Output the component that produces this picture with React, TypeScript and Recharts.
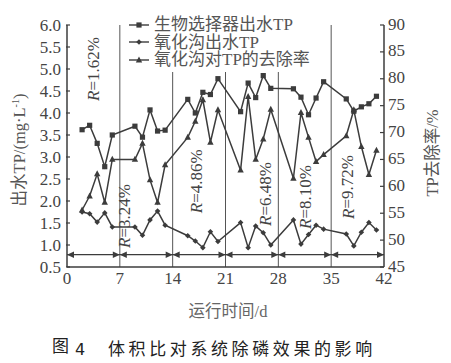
import React from 'react';
import { ComposedChart, Line, XAxis, YAxis, ReferenceLine, ReferenceDot, Legend } from 'recharts';

const days = [2, 3, 4, 5, 6, 9, 10, 11, 12, 13, 16, 17, 18, 19, 20, 23, 24, 25, 26, 27, 30, 31, 32, 33, 34, 37, 38, 39, 40, 41];
const selectorTP = [3.62, 3.72, 3.31, 2.78, 3.5, 3.7, 3.45, 4.07, 3.59, 3.61, 4.31, 4.0, 4.47, 4.42, 4.78, 4.03, 4.68, 4.35, 4.85, 4.56, 4.55, 4.36, 3.96, 4.34, 4.71, 4.32, 4.04, 4.14, 4.21, 4.38];
const ditchTP = [1.75, 1.71, 1.52, 1.73, 1.41, 1.41, 1.22, 1.57, 1.77, 1.45, 1.21, 1.09, 0.94, 1.3, 1.08, 1.51, 0.94, 1.43, 1.28, 1.0, 1.57, 1.02, 1.24, 1.45, 1.36, 1.25, 0.98, 1.29, 1.51, 1.34];
const removalRate = [55.6, 58.2, 62.3, 57.0, 65.0, 65.0, 68.0, 61.2, 57.0, 64.0, 69.1, 72.1, 76.1, 68.2, 74.2, 63.0, 76.7, 65.0, 68.8, 74.3, 61.5, 73.7, 69.1, 64.6, 65.9, 69.4, 74.2, 67.4, 62.2, 66.7];

const seriesNames = ['生物选择器出水TP', '氧化沟出水TP', '氧化沟对TP的去除率'];
const xTicks = [0, 7, 14, 21, 28, 35, 42];
const leftTicks = [0.5, 1.0, 1.5, 2.0, 2.5, 3.0, 3.5, 4.0, 4.5, 5.0, 5.5, 6.0];
const rightTicks = [45, 50, 55, 60, 65, 70, 75, 80, 85, 90];
const phaseBounds = [7, 14, 21, 28, 35];
const phaseSegments = [[0, 7], [7, 14], [14, 21], [21, 28], [28, 35], [35, 42]];
const arrowLevel = 0.78;
const ratioValues = ['1.62', '3.24', '4.86', '6.48', '8.10', '9.72'];
const ratioDays = [3.45, 7.6, 17.1, 26.3, 31.6, 37.2];
const ratioLevels = [5.0, 1.66, 2.45, 2.16, 2.09, 2.32];

const data = days.map((d, i) => ({ day: d, s: selectorTP[i], o: ditchTP[i], r: removalRate[i] }));

const INK = '#3c3c3c';
const SERIF = '"Liberation Serif", "Times New Roman", serif';
const CJK = '"Liberation Serif", "Noto Sans CJK SC", serif';

const SquareDot = (p: any) => {
  const { cx, cy } = p;
  if (cx == null || cy == null) return null;
  return <rect x={cx - 2.6} y={cy - 2.6} width={5.2} height={5.2} fill={INK} />;
};
const DiamondDot = (p: any) => {
  const { cx, cy } = p;
  if (cx == null || cy == null) return null;
  const s = 2.8;
  return <polygon points={`${cx},${cy - s} ${cx + s},${cy} ${cx},${cy + s} ${cx - s},${cy}`} fill={INK} />;
};
const TriangleDot = (p: any) => {
  const { cx, cy } = p;
  if (cx == null || cy == null) return null;
  return <polygon points={`${cx},${cy - 3.6} ${cx + 3.2},${cy + 2.4} ${cx - 3.2},${cy + 2.4}`} fill={INK} />;
};

const markerFor = (key: string, cx: number, cy: number) => {
  if (key === 's') return <SquareDot cx={cx} cy={cy} />;
  if (key === 'o') return <DiamondDot cx={cx} cy={cy} />;
  return <TriangleDot cx={cx} cy={cy} />;
};

const renderLegend = (props: any) => {
  const payload = [...(props.payload || [])].sort(
    (a: any, b: any) => seriesNames.indexOf(a.value) - seriesNames.indexOf(b.value)
  );
  return (
    <div style={{ background: '#fff', paddingBottom: 3 }}>
      {payload.map((entry: any) => (
        <div key={entry.value} style={{ display: 'flex', alignItems: 'center', height: 17.5 }}>
          <svg width={24} height={12} style={{ display: 'block' }}>
            <line x1={2} y1={6} x2={22} y2={6} stroke={INK} strokeWidth={1.4} />
            {markerFor(entry.dataKey, 12, 6)}
          </svg>
          <span style={{ marginLeft: 3, fontSize: 17, lineHeight: '17.5px', color: '#555', fontFamily: CJK, whiteSpace: 'nowrap' }}>
            {entry.value}
          </span>
        </div>
      ))}
    </div>
  );
};

const LeftTick = (p: any) => {
  const { x, y, payload } = p;
  return (
    <g>
      <line x1={x + 5} y1={y} x2={x + 9} y2={y} stroke={INK} strokeWidth={1.2} />
      <text x={x} y={y} textAnchor="end" dominantBaseline="central" fontSize={17} fontFamily={SERIF} fill="#444">
        {Number(payload.value).toFixed(1)}
      </text>
    </g>
  );
};
const RightTick = (p: any) => {
  const { x, y, payload } = p;
  return (
    <g>
      <line x1={x - 4} y1={y} x2={x - 8} y2={y} stroke={INK} strokeWidth={1.2} />
      <text x={x} y={y - 1} textAnchor="start" dominantBaseline="central" fontSize={17} fontFamily={SERIF} fill="#444">
        {payload.value}
      </text>
    </g>
  );
};
const BottomTick = (p: any) => {
  const { x, y, payload } = p;
  return (
    <text x={x} y={y + 13} textAnchor="middle" fontSize={17} fontFamily={SERIF} fill="#444">
      {payload.value}
    </text>
  );
};

const ArrowHead = (dir: number) => (p: any) => {
  const { cx, cy } = p;
  if (cx == null || cy == null) return null;
  return <polygon points={`${cx},${cy} ${cx - dir * 7},${cy - 3.2} ${cx - dir * 7},${cy + 3.2}`} fill={INK} />;
};

const RatioLabel = (text: string) => (p: any) => {
  const { cx, cy } = p;
  if (cx == null || cy == null) return null;
  return (
    <text x={cx} y={cy} transform={`rotate(-90 ${cx} ${cy})`} textAnchor="middle" dominantBaseline="central" fontSize={17} fontFamily={SERIF} fill="#444">
      <tspan fontStyle="italic">R</tspan>
      {'=' + text + '%'}
    </text>
  );
};

export default function App() {
  return (
    <div style={{ position: 'absolute', left: 0, top: 0, width: 451, height: 363, background: '#fff' }}>
      <ComposedChart width={451} height={363} data={data} margin={{ top: 25, right: 0, bottom: 66, left: 0 }}>
        <XAxis
          dataKey="day"
          type="number"
          domain={[0, 42]}
          ticks={xTicks}
          height={30}
          tickSize={0}
          tickMargin={4}
          tickLine={false}
          axisLine={{ stroke: INK, strokeWidth: 1.5 }}
          tick={<BottomTick />}
          interval={0}
        />
        <YAxis
          yAxisId="left"
          width={67}
          domain={[0.5, 6]}
          ticks={leftTicks}
          tickSize={0}
          tickMargin={6}
          tickLine={false}
          axisLine={{ stroke: INK, strokeWidth: 1.5 }}
          tick={<LeftTick />}
          interval={0}
        />
        <YAxis
          yAxisId="right"
          orientation="right"
          width={67}
          domain={[45, 90]}
          ticks={rightTicks}
          tickSize={0}
          tickMargin={4}
          tickLine={false}
          axisLine={{ stroke: INK, strokeWidth: 1.5 }}
          tick={<RightTick />}
          interval={0}
        />
        {phaseBounds.map((b) => (
          <ReferenceLine key={'pb' + b} x={b} yAxisId="left" stroke="#555" strokeWidth={1} />
        ))}
        <ReferenceLine
          yAxisId="left"
          segment={[{ x: 0, y: arrowLevel }, { x: 42, y: arrowLevel }]}
          stroke={INK}
          strokeWidth={1.2}
        />
        {phaseSegments.map(([a]) => (
          <ReferenceDot key={'al' + a} x={a} y={arrowLevel} yAxisId="left" r={0} shape={ArrowHead(-1)} />
        ))}
        {phaseSegments.map(([, b]) => (
          <ReferenceDot key={'ar' + b} x={b} y={arrowLevel} yAxisId="left" r={0} shape={ArrowHead(1)} />
        ))}
        {ratioValues.map((v, i) => (
          <ReferenceDot key={'rl' + v} x={ratioDays[i]} y={ratioLevels[i]} yAxisId="left" r={0} shape={RatioLabel(v)} />
        ))}
        <Line yAxisId="left" dataKey="s" name={seriesNames[0]} stroke={INK} strokeWidth={1.5} dot={<SquareDot />} isAnimationActive={false} />
        <Line yAxisId="left" dataKey="o" name={seriesNames[1]} stroke={INK} strokeWidth={1.5} dot={<DiamondDot />} isAnimationActive={false} />
        <Line yAxisId="right" dataKey="r" name={seriesNames[2]} stroke={INK} strokeWidth={1.5} dot={<TriangleDot />} isAnimationActive={false} />
        <Legend
          layout="vertical"
          align="center"
          verticalAlign="middle"
          content={renderLegend}
          wrapperStyle={{ left: 127, top: 16, width: 184 }}
        />
      </ComposedChart>
      <div
        style={{
          position: 'absolute', left: 20, top: 150, transform: 'translate(-50%, -50%) rotate(-90deg)',
          whiteSpace: 'nowrap', fontSize: 16.5, fontFamily: CJK, color: '#555', lineHeight: '18px',
        }}
      >
        出水TP/(mg·L<sup style={{ fontSize: 10, verticalAlign: 'super', lineHeight: 0 }}>-1</sup>)
      </div>
      <div
        style={{
          position: 'absolute', left: 433, top: 153, transform: 'translate(-50%, -50%) rotate(-90deg)',
          whiteSpace: 'nowrap', fontSize: 16.5, fontFamily: CJK, color: '#555', lineHeight: '18px',
        }}
      >
        TP去除率/%
      </div>
      <div
        style={{
          position: 'absolute', left: 228, top: 312, transform: 'translate(-50%, -50%)',
          whiteSpace: 'nowrap', fontSize: 16.5, fontFamily: CJK, color: '#666', lineHeight: '18px',
        }}
      >
        运行时间/d
      </div>
      <div style={{ position: 'absolute', left: 52, top: 335, whiteSpace: 'nowrap', fontFamily: '"Noto Sans CJK SC", sans-serif', color: '#222', fontSize: 17, lineHeight: '20px' }}>
        图
      </div>
      <div style={{ position: 'absolute', left: 75, top: 340, whiteSpace: 'nowrap', fontFamily: '"DejaVu Sans", sans-serif', color: '#222', fontSize: 16, lineHeight: '20px' }}>
        4
      </div>
      <div style={{ position: 'absolute', left: 108, top: 338, whiteSpace: 'nowrap', fontFamily: '"Noto Sans CJK SC", sans-serif', color: '#222', fontSize: 17, letterSpacing: 3.6, lineHeight: '20px' }}>
        体积比对系统除磷效果的影响
      </div>
    </div>
  );
}
